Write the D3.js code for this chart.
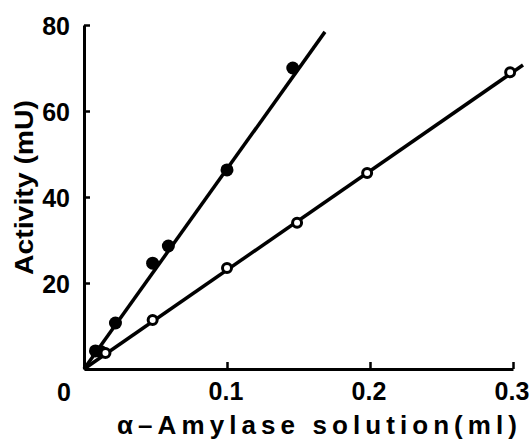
<!DOCTYPE html>
<html>
<head>
<meta charset="utf-8">
<script src="https://cdn.jsdelivr.net/npm/d3@7"></script>
<style>
  body { margin: 0; background: #fff; }
  text { font-family: "Liberation Sans", Arial, sans-serif; font-weight: bold; fill: #000; }
</style>
</head>
<body>
<svg width="532" height="441"></svg>
<script>
// filled circles
var filledX = [0.008, 0.012, 0.022, 0.048, 0.059, 0.1, 0.146];
var filledY = [4.2, 4, 10.7, 24.6, 28.6, 46.3, 70];
// open circles
var openX = [0.015, 0.048, 0.1, 0.149, 0.198, 0.298];
var openY = [3.7, 11.4, 23.5, 34, 45.6, 69];
// fitted lines (start, end)
var filledLineX = [0, 0.1685];
var filledLineY = [0, 78.4];
var openLineX = [0, 0.307];
var openLineY = [0, 70.7];

var xTicks = [0.1, 0.2, 0.3];
var yTicks = [20, 40, 60, 80];

var svg = d3.select("svg");

var x = d3.scaleLinear().domain([0, 0.3]).range([84, 513]);
var y = d3.scaleLinear().domain([0, 80]).range([369, 25]);

// axes
svg.append("g").attr("transform", "translate(0," + y(0) + ")")
  .call(d3.axisTop(x).tickValues(xTicks).tickSize(7).tickSizeOuter(0).tickFormat(""));
svg.append("g").attr("transform", "translate(" + x(0) + ",0)")
  .call(d3.axisRight(y).tickValues(yTicks).tickSize(6).tickSizeOuter(0).tickFormat(""));
svg.selectAll(".domain").attr("stroke", "#000").attr("stroke-width", 3);
svg.selectAll(".tick line").attr("stroke", "#000").attr("stroke-width", 2.5);

// tick labels
svg.append("g").selectAll("text")
  .data(xTicks)
  .enter()
  .append("text")
  .attr("x", function (d) { return x(d) - 1; })
  .attr("y", 400)
  .attr("text-anchor", "middle")
  .style("font-size", "25px")
  .text(function (d) { return d; });

svg.append("g").selectAll("text")
  .data(yTicks)
  .enter()
  .append("text")
  .attr("x", 70)
  .attr("y", function (d) { return y(d) + 10; })
  .attr("text-anchor", "end")
  .style("font-size", "25px")
  .text(function (d) { return d; });

svg.append("text")
  .attr("x", 71).attr("y", 401)
  .attr("text-anchor", "end")
  .style("font-size", "25px")
  .text("0");

// axis titles
svg.append("text")
  .attr("x", 117).attr("y", 434)
  .attr("textLength", 400)
  .attr("lengthAdjust", "spacing")
  .style("font-size", "26px")
  .text("\u03b1\u2013Amylase solution(ml)");

svg.append("text")
  .attr("transform", "translate(33,275) rotate(-90)")
  .attr("textLength", 175)
  .attr("lengthAdjust", "spacingAndGlyphs")
  .style("font-size", "26px")
  .text("Activity (mU)");

// lines
var line = d3.line().x(function (d) { return x(d[0]); }).y(function (d) { return y(d[1]); });
svg.append("path")
  .attr("d", line(d3.zip(filledLineX, filledLineY)))
  .attr("stroke", "#000").attr("stroke-width", 3.5).attr("fill", "none");
svg.append("path")
  .attr("d", line(d3.zip(openLineX, openLineY)))
  .attr("stroke", "#000").attr("stroke-width", 3.5).attr("fill", "none");

// points
svg.append("g").selectAll("circle")
  .data(d3.zip(filledX, filledY))
  .enter()
  .append("circle")
  .attr("cx", function (d) { return x(d[0]); })
  .attr("cy", function (d) { return y(d[1]); })
  .attr("r", 6.5)
  .attr("fill", "#000");

svg.append("g").selectAll("circle")
  .data(d3.zip(openX, openY))
  .enter()
  .append("circle")
  .attr("cx", function (d) { return x(d[0]); })
  .attr("cy", function (d) { return y(d[1]); })
  .attr("r", 4.5)
  .attr("fill", "#fff")
  .attr("stroke", "#000")
  .attr("stroke-width", 3);
</script>
</body>
</html>
